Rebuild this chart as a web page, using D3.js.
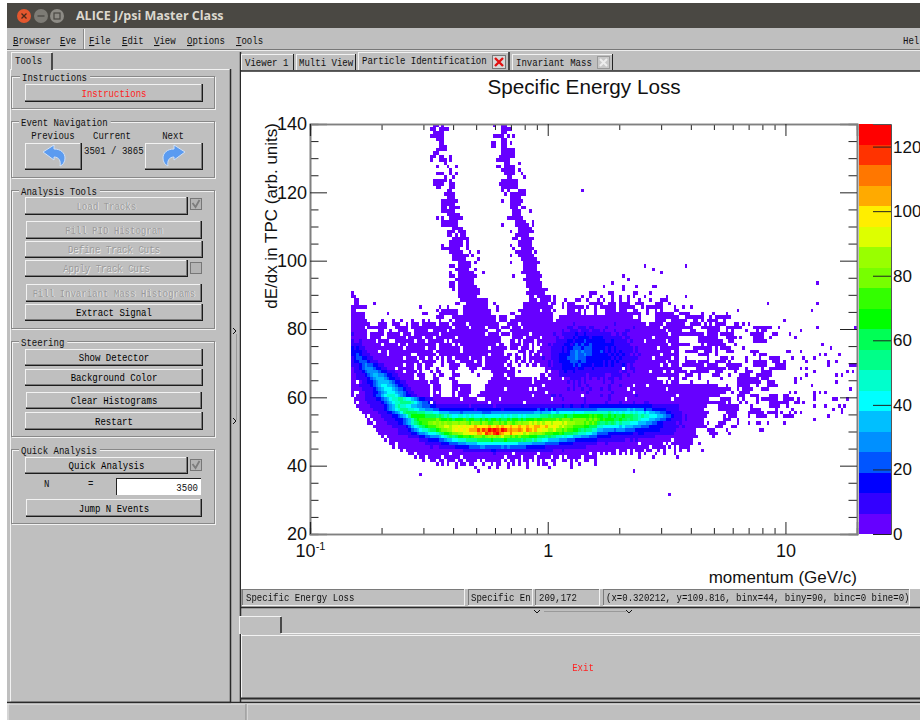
<!DOCTYPE html>
<html>
<head>
<meta charset="utf-8">
<script src="https://cdn.jsdelivr.net/npm/d3@7"></script>
<style>
html, body { margin: 0; padding: 0; background: #fff; overflow: hidden; }
svg { display: block; filter: blur(0.3px); }
</style>
</head>
<body>
<div id="chart-area"></div>
<script>
// levels, one string per dE/dx row from 139 downwards
// "c:levels" means the levels start at histogram bin 15 + c, "." is an empty bin
var levelChars = ".123456789abcdefghijk";
var topRow = 139;
var histRows = [
"30:11 33:1 52:1 55:11",
"29:11 32:11 34:11 55:1111",
"30:1111 55:11",
"29:11111 52:1111 57:1 59:1",
"31:11 33:1 55:11",
"32:11 51:11 55:11 58:1",
"32:111 51:11 55:11",
"31:1111 55:11111",
"30:11 55:11111",
"29:11 32:11 36:1 54:111111",
"29:1 32:111 36:1 53:11111",
"34:1 56:11 61:1",
"31:1 35:1 38:1 53:11 56:1111",
"36:1 55:11111 61:1",
"31:111 36:1 38:1 56:1111 62:1",
"34:1 37:1 57:11 63:1",
"30:11111 36:1 55:111111",
"30:1111 36:11 54:1111111",
"31:11 36:11 55:111111",
"35:11 55:1 57:1 61:111",
"34:1111 56:1 58:111111",
"35:111 58:1111",
"33:111111 55:1 58:11111",
"33:11111 58:1111",
"33:11 36:1111 58:111 62:1 63:1",
"33:11 35:111 59:111 65:1",
"35:11111 59:111",
"31:1 33:1 36:11111 57:111111",
"33:111111 60:1111 66:1",
"33:111111 55:1 60:11111 66:1",
"37:1111 61:1111 65:1",
"35:111 39:111 58:1 61:111111",
"35:11 38:1 40:11 60:11111",
"37:11 39:1111 59:11 62:11111",
"36:11111 42:1 61:11111",
"33:1 36:11111 42:1 58:1 61:11111",
"33:1111111 42:1 59:1 62:11111",
"36:11111 43:1 46:1 60:111111 67:1",
"37:111111 44:1 58:1 61:111111",
"37:11111 46:1 62:111111",
"39:11111 45:1 58:1 63:111111",
"36:11 39:11111 63:1111 67:1 107:1 122:1",
"38:11111 45:1 63:11111 110:1",
"36:1 39:111111 48:1 62:1111111 113:1",
"36:11 39:1111111 59:1 64:111111 99:1",
"38:1111111 63:111111 101:1",
"36:11 39:111111 64:111111 95:1",
"36:11 39:1111111 64:11111 69:1 92:1 99:1 110:1",
"37:1 39:11111111 65:1111111 99:1",
"0:1 39:11111111 64:1111111 87:111 94:11 103:11 109:1",
"0:11 39:1111111 65:11 68:1111 72:1 74:1 84:1 87:1 91:1 95:1 98:1 101:1 103:1 107:1 115:1 122:1",
"1:1 2:1 40:1111111111 65:111 69:1111 74:1 78:1 82:11 86:1 90:1 92:1 95:1 98:1 101:1 105:1 109:1 113:111",
"1:11 8:1 38:11 42:11111111 52:1 63:111 66:111111 73:11 77:1 79:111 87:11111 94:111 98:1111 104:111 111:111 116:1",
"0:11111 5:1 25:1 32:1 35:1 41:111111111 53:1 63:11111 68:11111 73:1 77:1 79:111111 86:1 89:1 91:111111 98:111111 106:1 108:111111 118:1 121:1 124:1",
"0:11 31:1 33:111111 41:1111111111 53:1 61:11111111 70:111 74:1 79:111 83:1 85:1 89:1 93:1111 98:111 103:11 108:1 111:1 113:1 118:11",
"0:11111 13:1 26:11 32:1111111 41:1111111111 58:11 62:111111111111 79:1111 83:1 85:1 89:1 93:111111 99:1111111 108:1 111:1111111 120:1111 128:1 132:1 137:1",
"0:11111 31:111 37:1111 41:111111111111 54:111 60:11111111111111 76:111111111111111111111111111 105:1 111:11 113:1111111 122:1111111 131:1 133:111111",
"0:111111.....1...1..1...1...1.1. 30:..1...1.111111111111111.111.11 60:11111111111111.111111111111111 90:1111111111111111.....1111..111 120:111..11.1.1111..1",
"0:1111111...111..111..1.111.1111 30:1.1111.11111.11111111111...111 60:1.1111111111111111111211111111 90:111111211111111111.11111.11111 120:11 124:1111 129:1 131:1 133:1111 140:11 143:1 145:1",
"0:11111.1111111...11111.11111111 30:1111111.11111.11111.1111.111.1 60:11.111111111111111122112221221 90:11121111111112111111111.111111 120:11111 128:1111111 137:111111 147:1111111",
"0:111111....11..1..1111..11111.. 30:11111.11111111111111...11...11 60:111111111111111112112221222122 90:2121112111221111111111111.1111 120:1 124:11 130:11111 137:1 139:1 144:1 148:1 150:11",
"0:211111.11111.11111.111.1111111 30:11.1111111111111111.1111.111.1 60:11111.111111112112222232232222 90:22222112122111111111111111.111 119:1111111111 130:1111 135:11111 146:11111 154:1",
"0:111111.1111..1111111.11111.111 30:.1111111.1111111111111111....1 60:111.11111.11111211222323333233 90:33222222212211111111.111111111 127:1111111 137:1111 142:1 147:1111 153:1",
"0:211211111.1111..1111111.111.11 30:1111.1.111111111111111111...11 60:.1.1111.1111111222233233343333 90:33322322222121111.1111111.1111 127:111111111 138:11 147:11111",
"0:22221111111.11111.11.111111111 30:1.11111.1.1111111111111.11..11 60:11.11.1.1.11212222332343433433 90:33333322222211111111111111.111 119:11111 128:1 130:1111111 140:1",
"0:3232211111111111111.1111111.11 30:1.11111111.111111111.111111.11 60:1.111.1..111122223233444344433 90:3332323222222121111111.1111111 125:1111111 133:1 135:1111 143:1",
"0:3333221111.11.1111111111111111 30:.111111111.111111111111111... 60:.111.11.1111122223234454544433 90:343232323222212111111111111.11 122:11111 129:111 133:1 137:111 146:111",
"0:3343222111111.11111111..111111 30:1.111111111111111111.11111.11. 60:1..1.1.11.11122233334454454433 90:33332323232212121111111.111111 127:1111 133:1 147:1 149:111",
"0:2344332211111111111.1111.11.11 30:.1.1.11.11111.1111.111111111.. 60:11.1.1111121122233344454443333 90:33333232322222211111.111111.11 122:1 130:1 135:111 139:1 144:1 149:1 153:1111",
"0:2334443222111111111111111.1111 30:1..1.111..11111.11.11111111.1. 60:1.11.1.11111212233334443443333 90:3323232322222211111111111.1111 122:1111 127:1111 133:1111 138:1 144:1 147:11111 154:111 158:1",
"0:2223454433221111111.111.11.111 30:...1..1111..111111.1111111.11. 60:.1..1.11.111212223333434333323 90:33232322232121111111111.11.111 121:11111111 130:1111 137:111111 147:11111 155:1111",
"0:1223455543322111.111111.11.11. 30:.1....111....111..111111111.11 60:...........1122223333323322232 90:222222222.21221111111111111.11 117:1111 126:11111111111 138:1111 144:1 150:1 153:111111",
"0:1222345555433222111.1111.1...1 30:.11....1......1......111111111 60:.1.........1.11122322322222222 90:2222222212211211111.1111.11.11 119:1111 124:1111111 133:111 140:1 144:111 150:1111",
"0:11222345665543322111111.111... 30:1.11...111......1.....1111.111 60:.........11.111122222222221222 90:222112222112111111111111111111 122:111 127:1 132:111 138:1 142:1111 148:111111",
"0:11222234566654332211111..11... 30:11....11.............111111.11 60:111111.1.111.1111.112222121211 90:2121221121111111111111....1.11 121:11 127:1 135:1 141:11111111 150:111",
"0:11.1223345666654332211111111.1 30:11.....11...........1111111111 60:111111.11111111111121212121111 90:112112111111111111111111.1.111 124:1 130:1 141:111111111 152:111",
"0:11122223456776654332211111111. 30:111....1111111.....11111111111 60:1111111111.1111111111212112111 90:1111211121111.1111.11111111111 120:11111111111111 137:1 141:1 142:1111 148:1 152:1111",
"0:11112222345677765443221111111. 30:111....11.1111.....1111111.111 60:11111.1.1111111111121211211211 90:12112111111.1111111111111.1111 120:1111111111111111111 141:1 143:1111 150:111",
"0:1..11222334567776554322111111. 30:1.1....1.11111...1111111111111 60:11111111111.111111111111112111 90:1111121111111.1111111111111111 120:11111111111111111 139:1 142:1111",
"0:1.111222344678887654332211111. 30:111....1.1111...11111111111111 60:111111.11111122121111111.11111 90:12112111111111211111111111111. 120:111111111111111 141:111 146:111 153:111 158:11",
"0:.111122223345678899877654332 28:22 30:1111111111.11111...11111.11111 60:1111111111111.1112111111121111 90:1111211111.1111111111111111.11 120:1111111111 130:1 135:1111 141:1 143:1 148:1 150:111111 158:1111",
"0:.1.11122222345678899998765443 30:21111111111111111111.111111111 60:111.11111111111111111111121111 90:111211112111121112211111111111 120:11111111111111111 138:1 142:1 144:1 148:1 153:111111 159:1 162:11",
"0:..1111122222345689887766554443 30:322222222222212222222212222222 60:222222222222222223223222322333 90:333333333333333333332222222222 120:1111111111 134:11111111 146:1 153:1111 159:1",
"0:...111112222345678999887766555 30:443333333333333233333333323333 60:333333334334343444444444444444 90:555555555556565553443333322222 120:111111111 134:11111111 146:1111 155:1 161:1",
"0:....1111112223345679aaaa999888 30:776666555545555555444555555555 60:555555566566677677777877788888 90:888898787877878776766554433222 120:21111111111 137:1111 145:111111 152:1111 157:1 160:1",
"0:.....1.111122223345679bbbbbaaa 30:a9a989877887878777877777787878 60:878788888999a9aaaabaabbbbbbcbc 90:bbaababaabaaa99898877766544322 120:2121111111 136:1 138:111 145:1 148:1111 155:1 158:111",
"0:......1.111122223334568abccccc 30:cdcbbcbabbbcabbaabababbabaabab 60:bababbbcbbcccccdcdddcdddddcdcd 90:cbcbbbaabaa9a99877766554433222 120:212111111 136:111 141:1",
"0:......11.111122223345689abccdd 30:edededdeedeedceddcedccddcdcedc 60:dedeefefefeffefffefeeedddcdcdc 90:a99a9a98988877766655443322222 119:1211111111 130:1 134:111 141:1 145:1 148:11 152:1 158:1",
"0:........111111122222346789abcc 30:cdeeffeffgfgfgghgggghfghghgghg 60:ghgghgghhgghffgfefeddccccbbaaa 90:887777776766655544433333222222 120:1211111111 133:111 139:11",
"0:.........11111111222234567889a 30:abcddeefgfgfghhhjhjikjkjikjhih 60:hihgihghfgffeefddcdccbba9a9988 90:665555455544443333333332222221 120:111111 130:111 137:1 149:11",
"0:..........11111112222233455677 30:789abbcddeeffggfhhgjihjkihggig 60:gfgefeedeedcccbbcbaaa998887766 90:444433333333322332222222222211 120:111111 131:111 138:1",
"0:...........1.11111111222233445 30:556789a9abbccbcdddcdededefddcd 60:cdcccbbbaaa9a99887877666555444 90:333332222222222222222111111111 120:1111111 132:1",
"0:............1.1111111111122233 30:3344566778889999aaaaabaaaabaaa 60:aa9a99898877666655544433333333 90:222222222211212111111111111.11 120:11111",
"0:..............11.1111111111222 30:222333444555666677777777777777 60:766666555554444433333222222222 90:111211111111111.11111111.1.111 120:11111 127:1",
"0:...............1.1111111111112 30:112222223333344445544444454544 60:444433333332222222222222221111 90:1111111111111111111.11111.1.1. 120:1111",
"0:..................1.1111111111 30:111111111112222222222332222222 60:222222222222221112111111111111 90:1111111.111.1.111.11..1.1...1. 120:1 123:1 128:1",
"0:.....................11.111111 30:111111.1111111111111112111111. 60:11111111.111111111111111111.11 90:.1.1.11.1.1.1..1.1...1..1...1",
"0:.......................1.11.11 30:111.111111.111111111111111.111 60:11.1111.11111.11.1.11111.11111 105:1 110:1 119:1",
"0:..........................1..1 30:1.11.111.11.1111.1.111111.1.11 60:.1.11.1.1.1..11..11.1.1..11..1",
"30:.1.1.1..1.11.11...1..1.11..1.1 60:.1..1...1.11..1.....1..1.....1",
"30:........1......1....1..1...1.. 60:....1.......1.......1",
"30:................1",
"25:1"
];
// isolated entries on the right of the cloud: [bin, dE/dx]
var strayList = [[99,120],[131,31],[118,38],[187,75],[190,74],[186,72],[188,72],[193,72],[192,70],[184,71],[189,70],[189,69],
      [197,69],[198,69],[199,69],[184,67],[196,67],[198,67],[192,66],[194,66],[192,64],[183,63],[197,62],[184,61],[186,61],
      [188,61],[184,60],[184,59],[191,59],[192,59],[196,59],[180,58],[184,57],[188,57],[191,56],[193,57],[195,57],[194,56],
      [194,55],[189,54],[184,53],[177,55],[179,55],[176,54],[185,93],[167,87],[185,87],[183,85],[156,85],[137,89],[126,92],
      [119,92],[185,80],[199,80],[179,79],[175,78],[177,77],[173,82],[171,80],[170,78],[174,73],[175,73],[179,73],[176,71],
      [180,71],[181,70],[179,68],[181,68],[177,65],[177,64],[179,65],[181,66],[177,61],[175,61],[178,59]];

var zPalette = ["#6600ff","#3300ff","#0000ff","#0055ff","#0090ff","#00bfff","#00ffff","#00ffcc","#00ff88","#00ff55",
  "#00ff00","#33ff00","#77ff00","#99ff00","#ddff00","#ffee00","#ffaa00","#ff7700","#ff3300","#ff0000"];
var zMax = 127;
var xMajor = [0.1, 1, 10],
    xMinor = [0.2,0.3,0.4,0.5,0.6,0.7,0.8,0.9,2,3,4,5,6,7,8,9],
    yMajor = [20,40,60,80,100,120,140],
    yMinor = [25,30,35,45,50,55,65,70,75,85,90,95,105,110,115,125,130,135],
    zTicks = [0,20,40,60,80,100,120];

// buttons of the tools panel: label, x, y, w, h, text colour
var panelButtons = [
  ["Instructions",25,84,178,18,"#f22"],
  ["Load Tracks",25,197,163,18,"off"],
  ["Fill PID Histogram",26,221,176,18,"off"],
  ["Define Track Cuts",25,241,178,17,"off"],
  ["Apply Track Cuts",25,260,163,17,"off"],
  ["Fill Invariant Mass Histograms",26,284,176,18,"off"],
  ["Extract Signal",25,304,178,17,"#000"],
  ["Show Detector",25,349,178,17,"#000"],
  ["Background Color",25,369,178,17,"#000"],
  ["Clear Histograms",26,392,176,17,"#000"],
  ["Restart",25,412,178,18,"#000"],
  ["Quick Analysis",25,457,163,17,"#000"],
  ["Jump N Events",26,499,176,18,"#000"]
];
var panelGroups = [
  ["Instructions",77,32,22],
  ["Event Navigation",122,56,21],
  ["Analysis Tools",191,138,21],
  ["Steering",342,95,21],
  ["Quick Analysis",450,74,21]
];

var guiBg = "#bfbfbf";
var svg = d3.select("#chart-area").append("svg")
    .attr("width", 920)
    .attr("height", 720);

// ---- small drawing helpers for the window chrome
function guiText(str, x, y, color, anchor, parent) {
  return (parent || svg).append("text")
    .attr("x", x).attr("y", y)
    .attr("font-family", "Liberation Mono")
    .attr("font-size", 10.5)
    .attr("textLength", str.length * 5.42)
    .attr("lengthAdjust", "spacingAndGlyphs")
    .attr("text-anchor", anchor || "start")
    .attr("fill", color || "#111")
    .text(str);
}
function hline(x1, x2, y, color, w) {
  svg.append("line").attr("x1", x1).attr("x2", x2).attr("y1", y).attr("y2", y)
    .attr("stroke", color).attr("stroke-width", w || 1);
}
function vline(x, y1, y2, color, w) {
  svg.append("line").attr("x1", x).attr("x2", x).attr("y1", y1).attr("y2", y2)
    .attr("stroke", color).attr("stroke-width", w || 1);
}
function bevel(x, y, w, h) {
  svg.append("rect").attr("x", x).attr("y", y).attr("width", w).attr("height", h).attr("fill", guiBg);
  hline(x, x + w, y + 0.5, "#f2f2f2");
  vline(x + 0.5, y, y + h, "#f2f2f2");
  hline(x, x + w, y + h - 1.5, "#7a7a7a");
  vline(x + w - 1.5, y, y + h, "#7a7a7a");
  hline(x, x + w, y + h - 0.5, "#1c1c1c");
  vline(x + w - 0.5, y, y + h, "#1c1c1c");
}
function sunken(x, y, w, h) {
  svg.append("rect").attr("x", x).attr("y", y).attr("width", w).attr("height", h).attr("fill", guiBg);
  hline(x, x + w, y + 0.5, "#7a7a7a");
  vline(x + 0.5, y, y + h, "#7a7a7a");
  hline(x, x + w, y + h - 0.5, "#f2f2f2");
  vline(x + w - 0.5, y, y + h, "#f2f2f2");
}
function checkBox(x, y, checked) {
  svg.append("rect").attr("x", x + 0.5).attr("y", y + 0.5).attr("width", 11).attr("height", 11)
    .attr("fill", "#b4b4b4").attr("stroke", "#777");
  if (checked) {
    svg.append("path").attr("d", "M" + (x + 2.5) + "," + (y + 5) + "l3,4l4,-7")
      .attr("fill", "none").attr("stroke", "#7d7d7d").attr("stroke-width", 1.8);
  }
}

// ---- window frame
svg.append("rect").attr("x", 7).attr("y", 27).attr("width", 913).attr("height", 693).attr("fill", guiBg);
svg.append("rect").attr("x", 7).attr("y", 3).attr("width", 913).attr("height", 25).attr("fill", "#4a4843");
[[24,"#e4572e"],[41,"#7d7b75"],[57,"#8d8b85"]].forEach(function(b) {
  svg.append("circle").attr("cx", b[0]).attr("cy", 16).attr("r", 7).attr("fill", b[1]);
});
svg.append("path").attr("d", "M21.5,13.5l5,5M26.5,13.5l-5,5").attr("stroke", "#4a2a1a").attr("stroke-width", 1.3);
svg.append("path").attr("d", "M37.5,16h7").attr("stroke", "#4a4843").attr("stroke-width", 1.3);
svg.append("rect").attr("x", 54).attr("y", 13).attr("width", 6).attr("height", 6)
  .attr("fill", "none").attr("stroke", "#4a4843").attr("stroke-width", 1.2);
svg.append("text").attr("x", 76).attr("y", 20)
  .attr("font-family", "Open Sans").attr("font-weight", 700).attr("font-size", 12.5)
  .attr("fill", "#dcd8cf").text("ALICE J/psi Master Class");

// menu bar
[["Browser",13],["Eve",60],["File",89],["Edit",122],["View",154],["Options",187],["Tools",236]].forEach(function(m) {
  var t = svg.append("text").attr("x", m[1]).attr("y", 44)
    .attr("font-family", "Liberation Mono").attr("font-size", 10.5)
    .attr("textLength", m[0].length * 5.42).attr("lengthAdjust", "spacingAndGlyphs").attr("fill", "#111");
  t.append("tspan").attr("text-decoration", "underline").text(m[0][0]);
  t.append("tspan").text(m[0].slice(1));
});
guiText("Hel", 903, 44);
vline(84.5, 29, 49, "#f2f2f2");
vline(83.5, 29, 49, "#8a8a8a");
hline(7, 920, 49.5, "#777");
hline(7, 920, 50.5, "#ececec");

// left tools panel
hline(10, 231, 69.5, "#f2f2f2");
vline(10.5, 69, 703, "#f2f2f2");
vline(230.5, 69, 703, "#2a2a2a", 1.5);
hline(10, 231, 702.5, "#2a2a2a", 1.5);
svg.append("rect").attr("x", 11).attr("y", 52).attr("width", 41).attr("height", 18).attr("fill", guiBg);
hline(11, 52, 52.5, "#f2f2f2");
vline(11.5, 52, 70, "#f2f2f2");
vline(52, 53, 70, "#222", 1.5);
guiText("Tools", 15, 64);

panelGroups.forEach(function(g) {
  svg.append("rect").attr("x", 12.5).attr("y", g[1] + 0.5).attr("width", 203).attr("height", g[2])
    .attr("fill", "none").attr("stroke", "#f2f2f2");
  svg.append("rect").attr("x", 11.5).attr("y", g[1] - 0.5).attr("width", 203).attr("height", g[2])
    .attr("fill", "none").attr("stroke", "#888");
  svg.append("rect").attr("x", g[3] - 2).attr("y", g[1] - 5).attr("width", g[0].length * 5.42 + 5).attr("height", 10).attr("fill", guiBg);
  guiText(g[0], g[3], g[1] + 4);
});

panelButtons.forEach(function(b) {
  bevel(b[1], b[2], b[3], b[4]);
  var tx = b[1] + b[3] / 2, ty = b[2] + b[4] / 2 + 3.5;
  if (b[5] == "off") {
    guiText(b[0], tx + 0.7, ty + 0.7, "#f0f0f0", "middle");
    guiText(b[0], tx, ty, "#9a9a9a", "middle");
  } else {
    guiText(b[0], tx, ty, b[5], "middle");
  }
});
checkBox(190, 198, true);
checkBox(190, 262, false);
checkBox(190, 459, true);

// event navigation
guiText("Previous", 53, 139, "#111", "middle");
guiText("Current", 112, 139, "#111", "middle");
guiText("Next", 173, 139, "#111", "middle");
guiText("3501 / 3865", 84, 154);
bevel(25, 143, 57, 27);
bevel(145, 143, 58, 27);
svg.append("path")
  .attr("d", "M43,152l11,-7l0,4c7,0 11,4 11,9c0,4 -2,7 -5,8c1,-5 -1,-9 -6,-9l0,3z")
  .attr("fill", "#5b9bf0").attr("stroke", "#cfe0f7").attr("stroke-width", 1);
svg.append("path")
  .attr("d", "M185,152l-11,-7l0,4c-7,0 -11,4 -11,9c0,4 2,7 5,8c-1,-5 1,-9 6,-9l0,3z")
  .attr("fill", "#5b9bf0").attr("stroke", "#cfe0f7").attr("stroke-width", 1);

// quick analysis input
guiText("N", 44, 487);
guiText("=", 88, 487);
svg.append("rect").attr("x", 116).attr("y", 478).attr("width", 85).attr("height", 17).attr("fill", "#fff");
hline(116, 201, 478.5, "#222");
vline(116.5, 478, 495, "#222");
guiText("3500", 198, 491, "#111", "end");

// splitters
vline(236.5, 334, 420, "#999");
svg.selectAll(".split-v").data([331, 421]).enter().append("path")
  .attr("d", function(d) { return "M233," + (d - 3) + "l3,3l-3,3"; })
  .attr("fill", "none").attr("stroke", "#111");
vline(240.5, 52, 703, "#2a2a2a", 1.5);
hline(544, 626, 611.5, "#999");
svg.selectAll(".split-h").data([537, 629]).enter().append("path")
  .attr("d", function(d) { return "M" + (d - 3) + ",610l3,3l3,-3"; })
  .attr("fill", "none").attr("stroke", "#111");

// viewer tabs
[[241,53,"Viewer 1",245],[296,60,"Multi View",299],[512,101,"Invariant Mass",516]].forEach(function(t) {
  svg.append("rect").attr("x", t[0]).attr("y", 54).attr("width", t[1]).attr("height", 16).attr("fill", guiBg);
  hline(t[0], t[0] + t[1], 54.5, "#f2f2f2");
  vline(t[0] + 0.5, 54, 70, "#f2f2f2");
  vline(t[0] + t[1] - 0.5, 54, 70, "#222");
  guiText(t[2], t[3], 66);
});
svg.append("rect").attr("x", 358).attr("y", 52).attr("width", 151).attr("height", 18).attr("fill", guiBg);
hline(358, 509, 52.5, "#f2f2f2");
vline(358.5, 52, 70, "#f2f2f2");
vline(509, 52, 70, "#222", 1.5);
guiText("Particle Identification", 362, 64);
svg.append("rect").attr("x", 492.5).attr("y", 55.5).attr("width", 13).attr("height", 13).attr("fill", "#d8d8d8").attr("stroke", "#777");
svg.append("path").attr("d", "M495,58l8,8M503,58l-8,8").attr("stroke", "#e01010").attr("stroke-width", 2.4);
svg.append("rect").attr("x", 597.5).attr("y", 56.5).attr("width", 12).attr("height", 12).attr("fill", "#c8c8c8").attr("stroke", "#999");
svg.append("path").attr("d", "M600,59l7,7M607,59l-7,7").attr("stroke", "#ededed").attr("stroke-width", 2);

// ---- canvas
svg.append("rect").attr("x", 241).attr("y", 71).attr("width", 679).attr("height", 518).attr("fill", "#fff");
hline(241, 920, 71, "#2a2a2a", 1.5);

var margin = {top: 124, right: 857, bottom: 534, left: 310};
var nBinsX = 200, firstCol = 15;

// Scales
var x = d3.scaleLog().domain([0.1, 20]).range([margin.left, margin.right]);
var xBin = d3.scaleLinear().domain([0, nBinsX]).range([margin.left, margin.right]);
var y = d3.scaleLinear().domain([20, 140]).range([margin.bottom, margin.top]);
var z = d3.scaleLinear().domain([0, zMax]).range([margin.bottom, margin.top]);
var zColor = d3.scaleQuantize().domain([0, zMax]).range(zPalette);
var zStep = zMax / zPalette.length;

// unpack the row strings into cells
var cells = [];
histRows.forEach(function(row, i) {
  row.split(" ").forEach(function(token) {
    var parts = token.split(":");
    parts[1].split("").forEach(function(ch, k) {
      var level = levelChars.indexOf(ch);
      if (level > 0) {
        cells.push({bin: firstCol + (+parts[0]) + k, v: topRow - i, level: level});
      }
    });
  });
});
strayList.forEach(function(d) {
  cells.push({bin: d[0], v: d[1], level: 1});
});

svg.append("g").selectAll("rect")
  .data(cells)
  .enter().append("rect")
    .attr("x", function(d) { return xBin(d.bin); })
    .attr("y", function(d) { return y(d.v + 1); })
    .attr("width", function(d) { return xBin(d.bin + 1) - xBin(d.bin); })
    .attr("height", function(d) { return y(d.v) - y(d.v + 1); })
    .attr("shape-rendering", "crispEdges")
    .attr("fill", function(d) { return zColor((d.level - 0.5) * zStep); });

// palette
svg.append("g").selectAll("rect")
  .data(zPalette)
  .enter().append("rect")
    .attr("x", 859)
    .attr("width", 32)
    .attr("y", function(d, i) { return z((i + 1) * zStep); })
    .attr("height", function(d, i) { return z(i * zStep) - z((i + 1) * zStep); })
    .attr("shape-rendering", "crispEdges")
    .attr("fill", function(d) { return d; });

// Axes
function styleAxis(g, size) {
  g.selectAll("text").attr("font-family", "Liberation Sans").attr("font-size", size || 18).attr("fill", "#111");
  g.selectAll(".tick line").attr("stroke", "#222");
  g.select(".domain").attr("stroke", "#808080").attr("stroke-width", 1.6);
}
function addAxis(axis, px, py, size) {
  var g = svg.append("g")
    .attr("class", "axis")
    .attr("transform", "translate(" + px + "," + py + ")")
    .call(axis);
  styleAxis(g, size);
  return g;
}
addAxis(d3.axisLeft(y).tickValues(yMinor).tickSize(-8.5).tickFormat(""), margin.left, 0);
addAxis(d3.axisLeft(y).tickValues(yMajor).tickSize(-17).tickPadding(3), margin.left, 0);
addAxis(d3.axisRight(y).tickValues(yMinor).tickSize(-8.5).tickFormat(""), margin.right, 0);
addAxis(d3.axisRight(y).tickValues(yMajor).tickSize(-17).tickFormat(""), margin.right, 0);
addAxis(d3.axisTop(x).tickValues(xMinor).tickSize(-6).tickFormat(""), 0, margin.top);
addAxis(d3.axisTop(x).tickValues(xMajor).tickSize(-12).tickFormat(""), 0, margin.top);
addAxis(d3.axisBottom(x).tickValues(xMinor).tickSize(-6).tickFormat(""), 0, margin.bottom);
var xTicks = addAxis(d3.axisBottom(x).tickValues(xMajor).tickSize(-12).tickPadding(10)
  .tickFormat(function(d) { return d == 0.1 ? "10" : String(d); }), 0, margin.bottom);
xTicks.selectAll(".tick text").filter(function(d) { return d == 0.1; })
  .append("tspan").attr("dy", -7).attr("font-size", 11).text("-1");

var zAxis = addAxis(d3.axisRight(z).tickValues(zTicks).tickSize(-18).tickPadding(2), 891, 0, 17);
zAxis.select(".domain").attr("stroke", "#555").attr("stroke-width", 1);

// Titles
svg.append("text").attr("x", 584).attr("y", 94).attr("text-anchor", "middle")
  .attr("font-family", "Liberation Sans").attr("font-size", 20.7).attr("fill", "#111")
  .text("Specific Energy Loss");
svg.append("text").attr("x", margin.right).attr("y", 583).attr("text-anchor", "end")
  .attr("font-family", "Liberation Sans").attr("font-size", 17).attr("fill", "#111")
  .text("momentum (GeV/c)");
svg.append("text").attr("transform", "translate(277,123) rotate(-90)").attr("text-anchor", "end")
  .attr("font-family", "Liberation Sans").attr("font-size", 17).attr("fill", "#111")
  .text("dE/dx in TPC (arb. units)");

// ---- status bar under the canvas
[[242,223,"Specific Energy Loss",246],[468,65,"Specific En",471],[535,65,"209,172",539],
 [603,307,"(x=0.320212, y=109.816, binx=44, biny=90, binc=0 bine=0)",606]].forEach(function(c) {
  sunken(c[0], 589, c[1], 17);
  guiText(c[2], c[3], 601);
});
hline(241, 920, 607.5, "#2a2a2a", 1.5);

// lower pane with the exit button
svg.append("rect").attr("x", 239).attr("y", 616).attr("width", 42).attr("height", 18).attr("fill", guiBg);
hline(239, 281, 616.5, "#f2f2f2");
vline(239.5, 616, 634, "#f2f2f2");
vline(281, 617, 633, "#222", 1.5);
hline(281, 920, 633.5, "#f2f2f2");
vline(241.5, 634, 698, "#f2f2f2");
hline(241, 920, 635.5, "#f2f2f2");
hline(241, 920, 698.5, "#2a2a2a", 2);
guiText("Exit", 583, 671, "#f22", "middle");

// bottom bar of the window
hline(7, 920, 702.5, "#2a2a2a", 1.5);
hline(7, 920, 704, "#ececec");
vline(8, 704, 720, "#ececec");
vline(247, 704, 720, "#ececec");
vline(246, 704, 720, "#888");
</script>
</body>
</html>
